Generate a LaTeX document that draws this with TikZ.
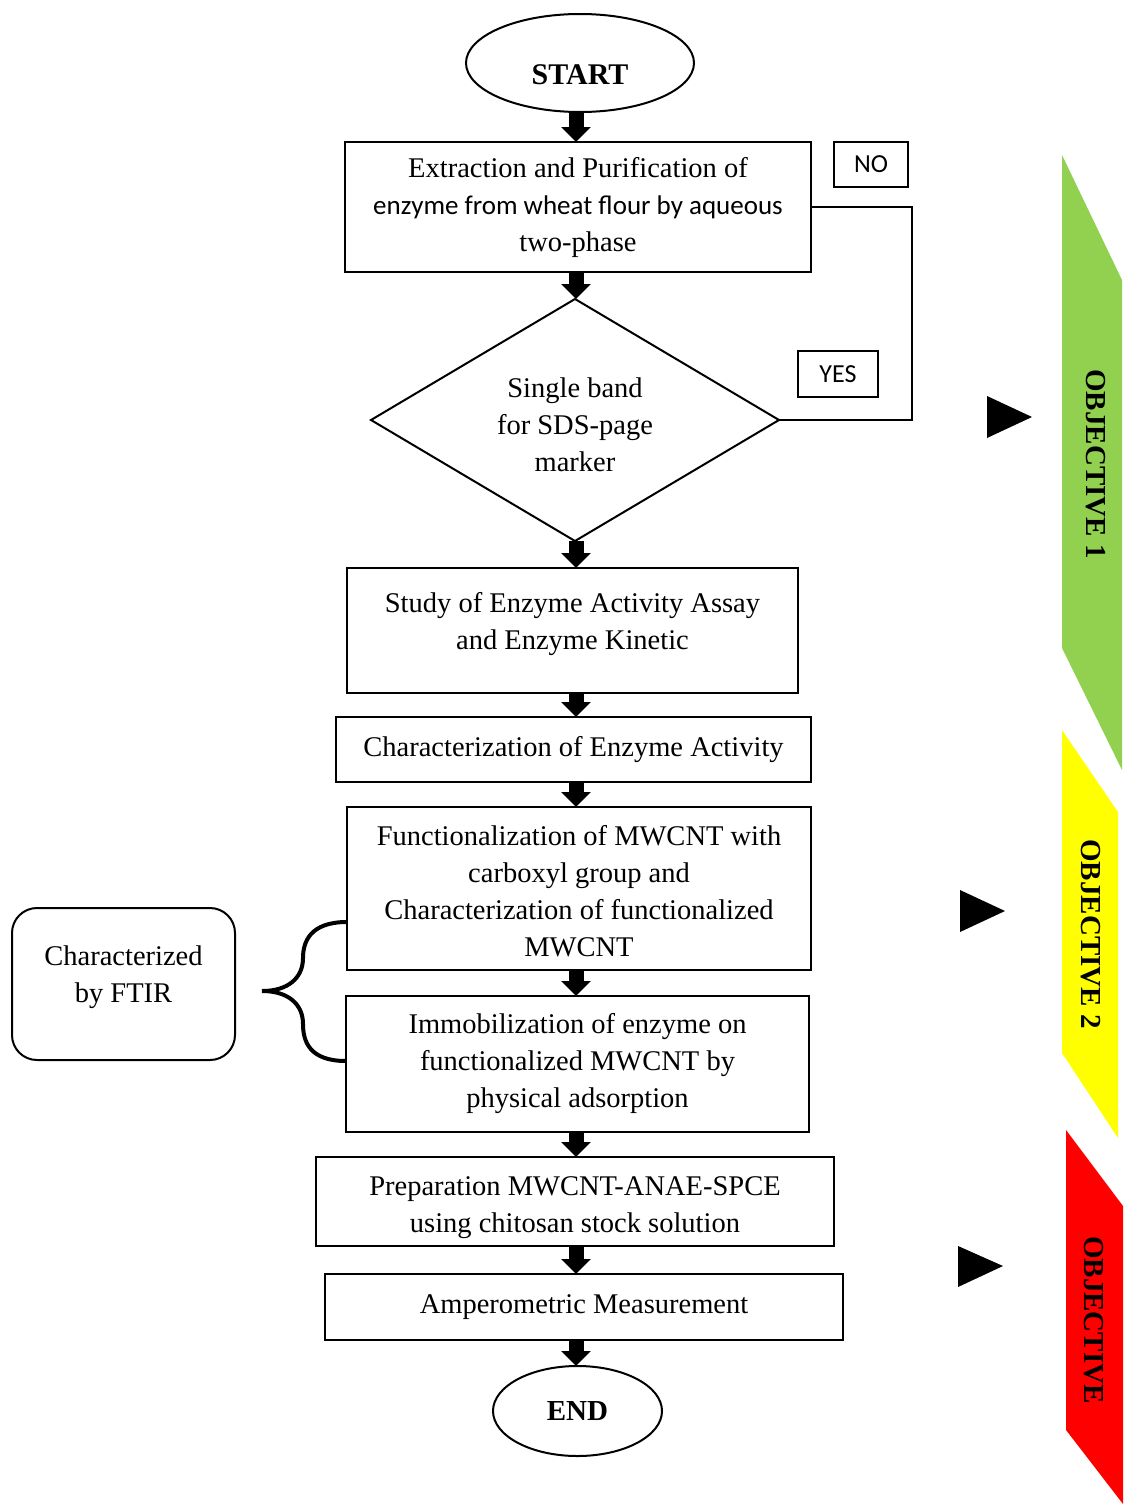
\documentclass[tikz,border=0pt]{standalone}
\usepackage{fontspec}
\setmainfont{Liberation Serif}
\newfontfamily\calibri{Carlito}
\usepackage{tikz}
\usetikzlibrary{shapes.geometric, arrows.meta, positioning, calc}
\definecolor{colorVerde}{HTML}{92D050}
\definecolor{colorAmarillo}{HTML}{FFFF00}
\definecolor{colorRojo}{HTML}{FF0000}

\begin{document}
\begin{tikzpicture}[x=1pt, y=-1pt,
        p/.style={draw, line width=2pt, outer sep=0pt, inner sep=0pt, align=center,
            font=\fontsize{28.5}{37}\selectfont},
        term/.style={draw, ellipse, line width=2pt, outer sep=0pt, inner sep=0pt,
            font=\fontsize{30}{36}\selectfont\bfseries},
        tag/.style={draw, line width=1.5pt, outer sep=0pt, inner sep=0pt,
            font=\calibri\fontsize{26}{30}\selectfont},
        flow/.style={line width=15pt, -{Triangle[length=15pt, width=29pt]}},
        obj/.style={rotate=-90, font=\fontsize{29}{34}\selectfont\bfseries}
    ]
        \useasboundingbox (0,0) rectangle (1125,1504);
        \coordinate (axis) at (576,0);
        % main column
        \node[term, minimum width=228pt, minimum height=98pt, text height=44pt] (start) at (580,63) {START};
        \node[p, below=30pt of start, xshift=-2pt, minimum width=466pt, minimum height=130pt] (ext)
            {Extraction and Purification of\\{\calibri\fontsize{27}{37}\selectfont enzyme from wheat flour by aqueous}\\two-phase};
        \node[p, diamond, aspect=1.69, below=27pt of ext, xshift=-3pt, minimum width=408pt, minimum height=242pt,
            text height=103.5pt] (dia)
            {Single band\\for SDS-page\\marker};
        \node[p, below=27pt of dia, xshift=-2.5pt, minimum width=451pt, minimum height=125pt, text depth=20pt] (study)
            {Study of Enzyme Activity Assay\\and Enzyme Kinetic};
        \node[p, below=24pt of study, xshift=1pt, minimum width=475pt, minimum height=65pt] (charact)
            {Characterization of Enzyme Activity};
        \node[p, below=25pt of charact, xshift=5.5pt, minimum width=464pt, minimum height=163pt, text height=136.5pt] (func)
            {Functionalization of MWCNT with\\carboxyl group and\\Characterization of functionalized\\MWCNT};
        \node[p, below=26pt of func, xshift=-1.5pt, minimum width=463pt, minimum height=136pt] (immob)
            {Immobilization of enzyme on\\functionalized MWCNT by\\physical adsorption};
        \node[p, below=25pt of immob, xshift=-2.5pt, minimum width=518pt, minimum height=89pt, text height=68.5pt] (prep)
            {Preparation MWCNT-ANAE-SPCE\\using chitosan stock solution};
        \node[p, below=28pt of prep, xshift=9pt, minimum width=518pt, minimum height=66pt] (amp)
            {Amperometric Measurement};
        \node[term, below=26pt of amp, xshift=-6.5pt, minimum width=169pt, minimum height=90pt,
            font=\fontsize{29}{34}\selectfont\bfseries] (finish) {END};

        \draw[flow] (start.south -| axis) -- (ext.north -| axis); \draw[flow] (ext.south -| axis) -- (dia.north -| axis);
        \draw[flow] (dia.south -| axis) -- (study.north -| axis); \draw[flow] (study.south -| axis) -- (charact.north -| axis);
        \draw[flow] (charact.south -| axis) -- (func.north -| axis); \draw[flow] (func.south -| axis) -- (immob.north -| axis);
        \draw[flow] (immob.south -| axis) -- (prep.north -| axis); \draw[flow] (prep.south -| axis) -- (amp.north -| axis);
        \draw[flow] (amp.south -| axis) -- (finish.north -| axis);

        % loop back
        \node[tag, minimum width=74pt, minimum height=45pt] (no) at (871,164.5) {NO};
        \node[tag, minimum width=80pt, minimum height=46pt] (yes) at (838,374) {YES};
        \draw[line width=2pt] (ext.east) -| ($(dia.east)+(133,0)$) -- (dia.east);

        % FTIR
        \node[p, rounded corners=25pt, minimum width=223pt, minimum height=152pt, text depth=20pt] (ftir) at (123.5,984)
            {Characterized\\by FTIR};
        \coordinate (bt) at (func.west |- 0,922);
        \coordinate (bb) at (immob.west |- 0,1061);
        \draw[line width=4pt] (bt) .. controls (310,922) and (303,942) .. (303,958)
            .. controls (303,978) and (288,991) .. (262,991)
            .. controls (288,991) and (303,1004) .. (303,1024)
            .. controls (303,1042) and (310,1061) .. (bb);

        % objectives
        \fill (987,396) -- (987,438) -- (1032,417) -- cycle;
        \fill (960,890) -- (960,932) -- (1005,911) -- cycle;
        \fill (958,1246) -- (958,1287) -- (1003,1266) -- cycle;
        \fill[colorVerde] (1062,155) -- (1122,280) -- (1122,770) -- (1062,648) -- cycle;
        \fill[colorAmarillo] (1062,730) -- (1118,812) -- (1118,1138) -- (1062,1053) -- cycle;
        \fill[colorRojo] (1066,1130) -- (1123,1206) -- (1123,1504) -- (1066,1430) -- cycle;
        \node[obj] (o1) at (1096,464) {OBJECTIVE 1};
        \node[obj] (o2) at (1091,934) {OBJECTIVE 2};
        \node[obj] (o3) at (1094,1320) {OBJECTIVE};
    \end{tikzpicture}
\end{document}
